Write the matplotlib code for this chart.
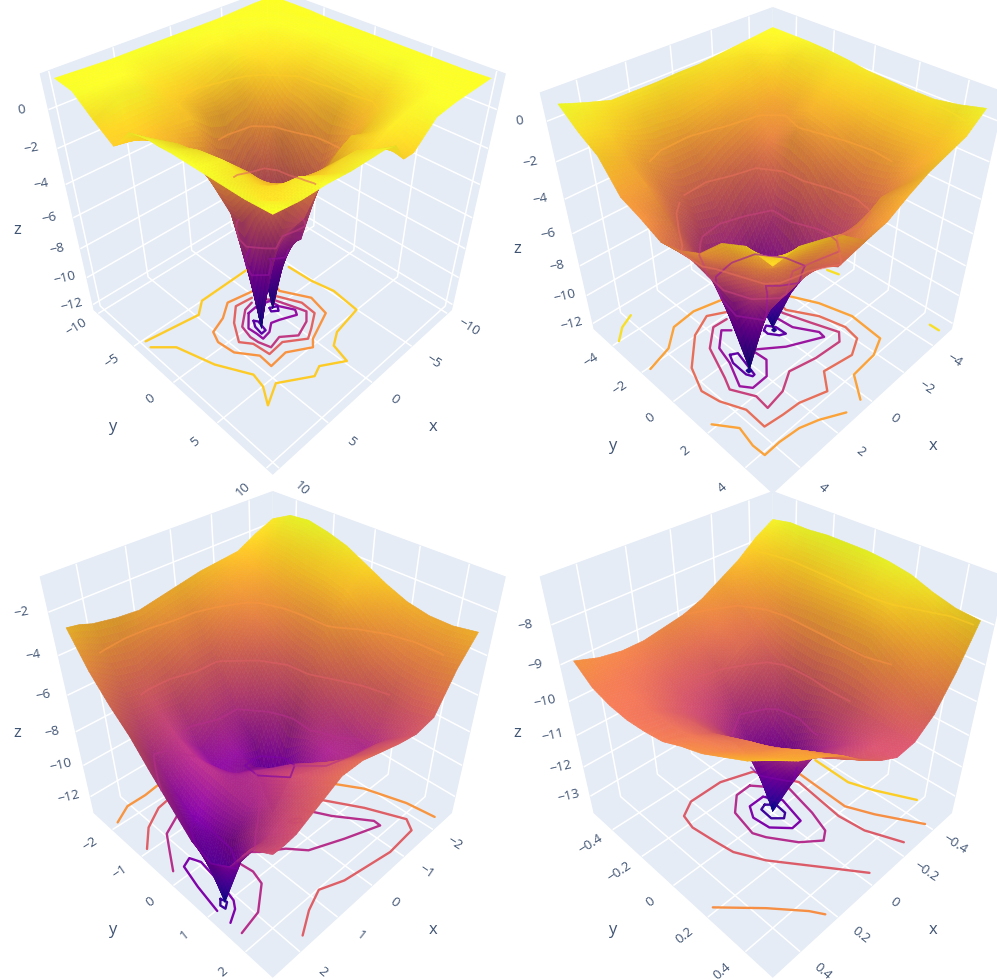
import numpy as np
import matplotlib
matplotlib.use('Agg')
import matplotlib.pyplot as plt
from matplotlib.colors import Normalize

plt.rcParams['font.family'] = ['Open Sans', 'DejaVu Sans']
plt.rcParams['grid.color'] = 'white'
plt.rcParams['grid.linewidth'] = 1.1

# --- Panel 1: full range ---
x1 = [-10, -8, -6, -4, -2, -1, 0, 1, 2.3, 4, 6, 8, 10]
y1 = [-10, -8, -6, -4, -2, -1, 0, 1, 2, 4, 6, 8, 10]
z1 = [
    [1.5, 1.5, 1.5, 1.45, 1.45, 1.45, 1.45, 1.45, 1.45, 1.45, 1.45, 1.45, 1.5],
    [1.5, 1.45, 1.4, 1.35, 1.3, 1.25, 1.25, 1.25, 1.25, 1.25, 1.3, 1.4, 1.45],
    [1.45, 1.35, 1.1, .8, .6, .6, .6, .5, .5, .2, .8, 1.25, 1.4],
    [1.4, 1.25, .6, .4, -.35, -.4, -.55, -.7, -.75, -.8, .4, 1.1, 1.25],
    [1.4, 1.1, .8, -.5, -2.1, -2.4, -2.9, -3.9, -4.4, -2.1, -.1, .8, .2],
    [1.4, 1.1, .6, -.8, -3.8, -5.7, -6.1, -7.5, -7, -2, .1, .5, .2],
    [1.4, 1, .4, -.9, -4.4, -8, -12.3, -9, -6.5, -2.7, -.2, .2, 1.1],
    [1.4, 1, .2, -1, -5.6, -8.9, -9, -7.4, -6, -4.2, -.7, .6, 1.25],
    [1.4, 1, 0, -.8, -4.7, -7.3, -9.6, -12.2, -7.4, -2.9, -.7, .6, 1.25],
    [1.4, 1, .2, -.2, -1.9, -2.9, -4.4, -4.4, -3.4, -1.9, -.4, .4, 1.25],
    [1.4, 1.25, 1, -.2, -1, -1.3, -1.5, -1.4, -.8, -.1, -.2, 1, 1.35],
    [1.45, 1.3, 1.1, -.3, .1, .4, .6, .7, .9, 1.1, .8, .6, 1.35],
    [1.5, 1.4, .6, -.1, 1.1, 1.25, 1.35, 1.35, 1.4, 1.4, 1.4, 1.4, 1.5],
]
floor1 = [
    (0, [(-2.03, -5.09), (3.53, -5), (4.77, -3.95), (9.64, -4.75)]),
    (0, [(9.73, -3.98), (8.28, -2.53), (7.27, .92), (5.82, 3.74), (6.08, 5.05), (7, 6.5), (5.18, 5.51),
         (2.63, 7.13), (1.66, 6.74), (-.23, 7.92), (-.68, 6.18), (-1.94, 5.43), (-4.97, 4.97),
         (-5.3, 2.16), (-4.86, -.07), (-4.73, -2.7)]),
    (-2, [(-.39, -2.76), (2.13, -3.29), (3.59, -2.25), (5.16, -1.67), (5.59, -.59), (5.4, 1.09), (4.19, 2.76),
          (4.28, 4.12), (2.53, 3.96), (.62, 5.13), (-.03, 4.53), (-2.86, 3.4), (-3.32, 1.34),
          (-1.97, -1.18), (-2.23, -1.83)]),
    (-4, [(.27, -2.25), (1.92, -2.49), (3.3, -1.2), (4.41, .59), (3.72, 1.53), (3.54, 3.18), (1.95, 3.04),
          (.24, 4.25), (-.76, 3.69), (-2.2, 2.74), (-2.32, 1.17), (-1.33, -.93)]),
    (-6, [(.68, -1.84), (1.63, -1.63), (3.11, -.42), (3.4, .84), (3.32, 1.68), (2.97, 2.78), (1.75, 2.49),
          (.53, 3.47), (-1.03, 2.9), (-1.86, 2.13), (-1.44, .87), (-.84, -.84), (-.26, -1.42)]),
    (-8, [(1.7, -1.15), (2.87, .07), (2.79, .95), (2.79, 1.7), (1.93, 1.55), (1.14, .96), (.43, 1.19),
          (-1.01, 1.83), (-1.33, 1.33), (-.67, .1), (-.53, -.9), (.67, -1.24), (1.7, -1.15)]),
    (-10, [(.04, -.34), (-.57, 0), (-.26, .43), (.23, .04), (.04, -.34)]),
    (-10, [(2, -.24), (1.78, .09), (2.02, 1.2), (2.51, 1.23), (2.36, .33), (2, -.24)]),
]

# --- Panel 2 ---
x2 = [-5, -4, -3, -2, -1, 0, 1, 2, 2.3, 3, 4, 5]
y2 = [-5, -4, -3, -2, -1, 0, 1, 2, 3, 4, 5]
z2 = [
    [.5, .5, .5, .45, .35, .2, .15, .1, .1, .3, .6],
    [.4, .2, -.1, -.35, -.4, -.55, -.7, -.75, -.75, -.8, -.2],
    [.3, -.2, -1.5, -1.6, -1.3, -1.5, -1.8, -2.1, -1.9, -1.6, -.5],
    [.2, -.5, -1.6, -2.9, -2.4, -2.9, -3.9, -4.4, -3.9, -2.1, -.8],
    [.1, -.8, -1.8, -3.8, -6.2, -6.1, -7.5, -7, -4.8, -2, -1.3],
    [.1, -.9, -2.2, -4.4, -8, -12.3, -9, -6.5, -4.1, -2.7, -1.9],
    [.05, -1, -2.7, -5.6, -8.9, -9, -7.4, -6, -4.9, -4.2, -2.1],
    [.05, -.8, -2.7, -5.2, -8.3, -10.1, -9.5, -7.3, -5.3, -3, -1.2],
    [.05, -.8, -2.7, -4.7, -7.3, -9.6, -12.2, -7.4, -5.2, -2.9, -.9],
    [.05, -.7, -2.1, -3.7, -5.4, -6.6, -7, -6, -4.8, -2.4, -.6],
    [.4, -.2, -1.2, -1.9, -2.9, -4.4, -4.4, -3.4, -2.7, -1.9, -.2],
    [.8, 0, -.6, -2, -2.4, -2.9, -2.6, -2, -.8, -.2, -.3],
]
floor2 = [
    (0, [(5.02, -4.02), (4.46, -4.58), (3.78, -4.91)]),
    (0, [(-4.9, 4.57), (-4.9, 5.03)]),
    (0, [(-4.44, -.85), (-4.59, -.27)]),
    (-2, [(.37, -2.84), (1.71, -3.17), (2.9, -3.04), (3.81, -2.25), (5, -1.9)]),
    (-2, [(5, 1.81), (4.38, 2.66), (4.55, 3.54), (4.52, 4.12), (3.78, 4.11), (2.83, 4.21), (2.05, 4.48), (1.08, 4.98)]),
    (-2, [(-1.92, -.89), (-2.53, .35), (-2.95, 1.9), (-2.78, 3.56), (-1.87, 3.94), (-.52, 4.02), (.25, 4.98)]),
    (-4, [(.59, -2.05), (1.49, -2.55), (2.57, -2.04), (3.8, -.78), (4.27, .38), (4.1, 1.24), (3.65, 2.24),
          (3.69, 3.26), (2.84, 3.37), (2.01, 3.43), (.84, 3.82), (.19, 3.07), (-1.25, 3.31), (-2.1, 2.88),
          (-2.25, 2.12), (-1.94, .89), (-1.2, -.39), (-1.29, -.89)]),
    (-6, [(1, -1.8), (1.72, -1.85), (2.61, -1.05), (3.2, .53), (3.45, 1.09), (2.95, 2.05), (3.02, 2.75),
          (2.06, 2.6), (1.17, 2.1), (-.09, 2.38), (-1.44, 2.48), (-1.84, 2.11), (-1.38, .84), (-.97, -.36),
          (-.97, -.76)]),
    (-8, [(1.3, -1.17), (1.6, -1.47), (2.33, -.78), (2.55, .1), (3.07, 1.25), (2.76, 1.67), (1.98, 1.64),
          (1.39, 1.03), (1.46, .21), (.33, 1.1), (-1.19, 1.85), (-1.25, 1.52), (-.66, .53), (-.56, -.37)]),
    (-10, [(.33, -.2), (.07, -.33), (-.16, .03), (-.19, .59), (.07, .46), (.35, .05), (.33, -.2)]),
    (-10, [(2.26, -.21), (1.97, -.04), (2.26, 1.24), (2.37, 1.25), (2.49, 1), (2.46, .2), (2.26, -.21)]),
    (-12, [(2.22, .88), (2.22, 1), (2.34, 1), (2.34, .88), (2.22, .88)]),
    (-12, [(-.04, .04), (-.04, .14), (.06, .14), (.06, .04), (-.04, .04)]),
]

# --- Panel 3 ---
x3 = [-2.5, -2, -1.5, -1, -.5, 0, .5, 1, 1.5, 2, 2.25, 2.5]
y3 = [-2.5, -2, -1.5, -1, -.5, 0, .5, 1, 1.5, 2, 2.5]
z3 = [
    [-1.6, -1.1, -1, -1.2, -1.5, -2, -2.5, -2.9, -3.1, -3.1, -2.9],
    [-2, -2, -2, -2.2, -2.3, -2.6, -3.3, -4, -4.3, -4.4, -4.1],
    [-2.5, -3, -3.3, -3.5, -3.6, -3.7, -4.7, -5.6, -6.1, -6.2, -5.9],
    [-2.6, -3.5, -4.3, -5, -5.6, -5.8, -6.8, -7.7, -8.2, -7, -6.1],
    [-2.7, -3.9, -5, -6.3, -7.6, -8.3, -8.1, -8.3, -8, -6.7, -5.9],
    [-2.9, -4.4, -6.2, -8, -9.2, -13.05, -9.9, -8.8, -7.7, -6.5, -5.6],
    [-3.1, -4.5, -6.3, -8.1, -9.2, -9.35, -8.7, -7.7, -6.9, -6.1, -5.3],
    [-3.3, -4.9, -7, -8.9, -9.5, -9, -8.1, -7.4, -6.7, -6.1, -5.3],
    [-3.2, -5.3, -6.8, -7.6, -8, -8, -8.2, -8.3, -7.5, -6.6, -5.9],
    [-3, -5, -6.7, -8.3, -9.4, -10.1, -10, -9.5, -8.2, -7.3, -6.5],
    [-2.8, -4.6, -6, -7.3, -8.5, -9.6, -10.8, -13, -9.4, -7.4, -6.6],
    [-2.7, -4.2, -5.3, -6.2, -7.4, -8.5, -9.6, -10, -9.2, -7.3, -6.6],
]
floor3 = [
    (-4, [(2.48, -2.09), (2.06, -2.33), (1.59, -2.33), (1.09, -2.4)]),
    (-4, [(-1.45, .14), (-1.93, .91), (-2.23, 1.83), (-2.32, 2.49)]),
    (-6, [(2.48, -1.08), (2.11, -1.52), (1.62, -1.82), (1.16, -1.9)]),
    (-6, [(-.9, .29), (-1.48, 1.28), (-1.85, 2.11), (-1.67, 2.37), (-.9, 2.41), (.28, 2.22), (.79, 2.02),
          (1.26, 2.2), (1.73, 2.48)]),
    (-8, [(2.46, -.27), (2.21, -.69), (1.95, -1.12), (1.45, -1.38)]),
    (-8, [(2.46, 1.68), (1.95, 1.57), (1.45, 1.15), (1.37, .83), (1.45, .3), (1.33, .18), (.94, .57), (.51, .88),
          (.22, 1.23), (-.52, 1.54), (-1.32, 1.83), (-1.33, 1.66), (-.81, .94), (-.51, .38)]),
    (-10, [(-.08, .4), (-.31, .51), (-.26, .61), (-.07, .5), (-.08, .4)]),
    (-10, [(2.46, 1.02), (2.36, .35), (2.24, -.21), (2.03, -.3), (1.93, -.06), (2.01, .65), (2.09, 1.06),
           (2.2, 1.22), (2.46, 1.38)]),
    (-12, [(2.24, .86), (2.2, 1), (2.32, 1.09), (2.34, .97), (2.24, .86)]),
]

# --- Panel 4: zoom on the minimum ---
x4 = [-.5, -.4, -.3, -.2, -.1, 0, .1, .2, .3, .4, .5]
y4 = [-.5, -.4, -.3, -.2, -.1, 0, .1, .2, .3, .4, .5]
z4 = [
    [-7.5, -7.4, -7.4, -7.35, -7.35, -7.35, -7.4, -7.5, -7.7, -7.85, -7.9],
    [-7.8, -7.9, -8, -8, -8, -7.95, -7.9, -8, -8.2, -8.6, -8.9],
    [-8.2, -8.4, -8.7, -8.75, -8.65, -8.65, -8.6, -8.6, -9, -9.3, -9.7],
    [-8.5, -9, -9.4, -9.85, -10.1, -10.15, -10, -10.05, -10.02, -10.1, -10.1],
    [-8.8, -9.25, -9.6, -10.3, -11.4, -11.8, -11.3, -10.95, -10.5, -10.2, -10.15],
    [-9, -9.55, -9.95, -10.85, -11.9, -13.55, -12.2, -10.95, -10.5, -10.15, -9.85],
    [-9.1, -9.65, -10.1, -10.55, -11.1, -11.4, -10.9, -10.5, -10.15, -9.8, -9.45],
    [-9.2, -9.6, -10, -10.3, -10.4, -10.45, -10.15, -9.9, -9.55, -9.25, -8.95],
    [-9.2, -9.5, -9.7, -9.95, -9.9, -9.85, -9.6, -9.35, -9.15, -8.8, -8.6],
    [-9.1, -9.4, -9.5, -9.6, -9.6, -9.5, -9.35, -9.2, -8.9, -8.6, -8.3],
    [-8.9, -9.3, -9.45, -9.5, -9.45, -9.35, -9.1, -8.9, -8.6, -8.3, -7.9],
]
floor4 = [
    (-8, [(-.373, -.095), (-.368, .106), (-.41, .22), (-.494, .387)]),
    (-9, [(-.255, -.088), (-.245, .192), (-.298, .311), (-.403, .494)]),
    (-9, [(.494, .181), (.357, .323), (.255, .443), (.223, .495)]),
    (-10, [(-.26, .491), (-.197, .338), (-.183, .21), (-.214, -.049), (-.117, -.242), (.034, -.296), (.203, -.296),
           (.278, -.251), (.294, -.176), (.279, -.06), (.263, .04), (.2, .163), (.077, .33), (-.04, .49)]),
    (-11, [(-.044, -.188), (.037, -.185), (.113, -.113), (.14, .022), (.116, .077), (.041, .19), (-.037, .255),
           (-.082, .224), (-.118, .118), (-.154, -.052), (-.044, -.188)]),
    (-12, [(-.037, -.097), (.043, -.096), (.078, -.038), (.069, .049), (.004, .119), (-.05, .115), (-.065, .052),
           (-.083, -.024), (-.037, -.097)]),
    (-13, [(-.009, -.058), (.021, -.048), (.027, .018), (-.011, .056), (-.037, .037), (-.043, -.023), (-.009, -.058)]),
]

xy_ticks1 = [-10, -5, 0, 5, 10]
xy_ticks2 = [-4, -2, 0, 2, 4]
xy_ticks3 = [-2, -1, 0, 1, 2]
xy_ticks4 = [-.4, -.2, 0, .2, .4]
z_ticks1 = [-12, -10, -8, -6, -4, -2, 0]
z_ticks2 = [-12, -10, -8, -6, -4, -2, 0]
z_ticks3 = [-12, -10, -8, -6, -4, -2]
z_ticks4 = [-13, -12, -11, -10, -9, -8]

TEXT = '#3f5373'
SUB = 8  # colour steps per grid cell, plays the part of WebGL's gouraud shading


def refine(a):
    # same mesh, split into sub-quads so the colours blend across a cell
    a = np.asarray(a, float)
    for axis in (0, 1):
        n = a.shape[axis]
        fine = np.linspace(0, n - 1, (n - 1) * SUB + 1)
        a = np.apply_along_axis(lambda v: np.interp(fine, np.arange(n), v), axis, a)
    return a


def fmt(v):
    return f'{v:g}'.replace('-', '\u2212')


def draw_panel(fig, cx, cy, xs, ys, zs, floor, lim, zlim, xy_ticks, z_ticks, rear, under):
    ax = fig.add_axes([(cx - 250) / 997, 1 - (cy + 250) / 980, 500 / 997, 500 / 980],
                      projection='3d', computed_zorder=False)
    ax.patch.set_alpha(0)
    ax.set_proj_type('persp', focal_length=0.256)
    ax.view_init(elev=38, azim=45)
    ax.set_box_aspect((1, 1, 1.03), zoom=0.97)
    ax.set_xlim(-lim, lim)
    ax.set_ylim(-lim, lim)
    ax.set_zlim(*zlim)
    ax.set_xticks(xy_ticks)
    ax.set_yticks(xy_ticks)
    ax.set_zticks(z_ticks)
    for axis in (ax.xaxis, ax.yaxis, ax.zaxis):
        axis.set_pane_color('#E5ECF6')
        axis.pane.set_edgecolor('#E5ECF6')
        axis.line.set_color((0, 0, 0, 0))
        axis.set_ticklabels([])
    ax.tick_params(axis='both', colors=(0, 0, 0, 0))

    X, Y = np.meshgrid(xs, ys, indexing='ij')
    Z = np.array(zs, float)
    norm = Normalize(Z.min(), Z.max())

    # floor contours go under the surface
    for level, pts in floor:
        px, py = zip(*pts)
        ax.plot(px, py, zs=zlim[0], color=plt.cm.plasma(norm(level)), lw=1.7, zorder=2,
                solid_joinstyle='round', solid_capstyle='round')

    # plotly's lighting: flat parts glow, steep walls go darker
    gx = np.gradient(Z, xs, axis=0) * (2 * lim) / (zlim[1] - zlim[0])
    gy = np.gradient(Z, ys, axis=1) * (2 * lim) / (zlim[1] - zlim[0])
    nz = 1 / np.sqrt(1 + gx ** 2 + gy ** 2)
    shade = refine(0.64 + 0.42 * nz)

    Zf = refine(Z)
    colors = plt.cm.plasma(norm(Zf))
    colors[..., :3] = np.clip(colors[..., :3] * shade[..., None], 0, 1)
    ax.plot_surface(refine(X), refine(Y), Zf, facecolors=colors, rstride=1, cstride=1,
                    shade=False, linewidth=0.4, antialiased=True, zorder=3)

    # level lines on the surface: far half and the part seen under the rim
    if rear:
        ax.contour(X, Y, np.ma.masked_where(X + Y > 0, Z), levels=sorted(rear), cmap='plasma', norm=norm,
                   linewidths=1.3, alpha=0.6, zorder=4)
    if under:
        ax.contour(X, Y, np.ma.masked_where(X + Y < 0, Z), levels=sorted(under), cmap='plasma', norm=norm,
                   linewidths=1.3, alpha=0.6, zorder=4)

    # tick labels and axis titles placed by hand; zdir sets the turn of each label
    step = lim * 0.1
    for v in xy_ticks:
        ax.text(v, lim * 1.2, zlim[0], fmt(v), zdir=(0, step, 0), color=TEXT, fontsize=9.5,
                ha='center', va='center', rotation_mode='anchor')
        ax.text(lim * 1.2, v, zlim[0], fmt(v), zdir=(-step, 0, 0), color=TEXT, fontsize=9.5,
                ha='center', va='center', rotation_mode='anchor')
    for v in z_ticks:
        ax.text(lim * 1.12, -lim * 1.12, v, fmt(v), zdir=(-step, step * 0.45, 0), color=TEXT, fontsize=9.5,
                ha='center', va='center', rotation_mode='anchor')
    ax.text(0, lim * 1.52, zlim[0], 'x', color=TEXT, fontsize=12, ha='center', va='center')
    ax.text(lim * 1.52, 0, zlim[0], 'y', color=TEXT, fontsize=12, ha='center', va='center')
    ax.text(lim * 1.3, -lim * 1.3, sum(zlim) / 2 - (zlim[1] - zlim[0]) * 0.1, 'z', color=TEXT, fontsize=12,
            ha='center', va='center')
    return ax


fig = plt.figure(figsize=(9.97, 9.8), dpi=100)
draw_panel(fig, 266, 214, x1, y1, z1, floor1, 10.6, (-12.4, 1.7), xy_ticks1, z_ticks1,
           [0, -2, -4], [-6, -8])
draw_panel(fig, 766, 233, x2, y2, z2, floor2, 5.35, (-12.4, 1.3), xy_ticks2, z_ticks2,
           [0, -2, -4, -6, -8], [-4, -6, -8])
draw_panel(fig, 266, 717, x3, y3, z3, floor3, 2.67, (-13.1, -.5), xy_ticks3, z_ticks3,
           [-4, -6, -8, -10], [-8, -10])
draw_panel(fig, 766, 717, x4, y4, z4, floor4, .535, (-13.6, -6.9), xy_ticks4, z_ticks4,
           [-8, -9, -10, -11], [-12, -13])
fig.savefig('out.png', dpi=100, facecolor='white')
